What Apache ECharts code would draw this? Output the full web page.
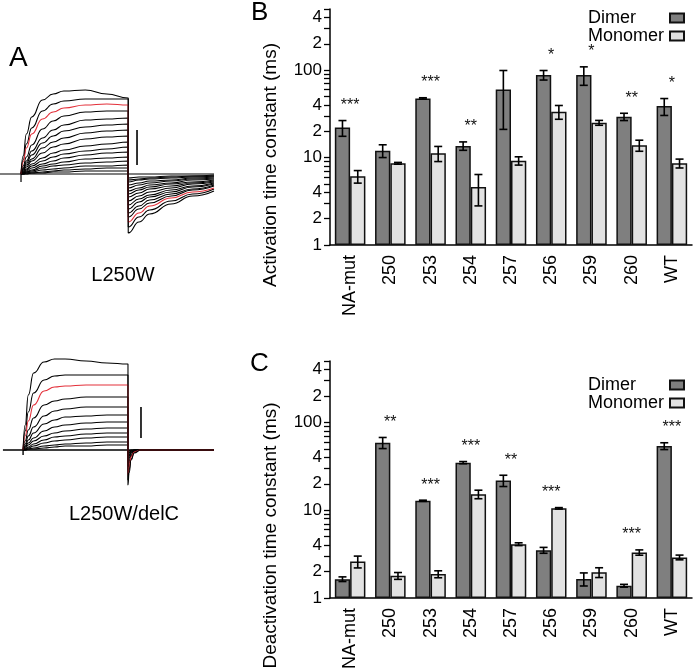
<!DOCTYPE html>
<html><head><meta charset="utf-8">
<script src="https://cdn.jsdelivr.net/npm/echarts@6/dist/echarts.min.js"></script>
<style>html,body{margin:0;padding:0;background:#fff}#c{width:693px;height:672px}</style>
</head><body><div id="c"></div>
<script>
// ---------- Bar chart data ----------
const categories = ['NA-mut','250','253','254','257','256','259','260','WT'];
const actDimer       = [22, 12, 47.5, 13.6, 60, 88, 88, 29.3, 38.8];
const actDimerErr    = [4.5, 2, 0.8, 1.5, 39, 11, 21, 2.8, 8.5];
const actMonomer     = [6.1, 8.6, 11.2, 4.6, 9.2, 33.4, 25, 13.8, 8.6];
const actMonomerErr  = [1, 0.2, 2.2, 1.8, 1, 6, 1.6, 2, 1];
const actStars       = ['***','','***','**','','*','*','**','*'];
const deactDimer      = [1.64, 58.8, 12.8, 34.8, 21.8, 3.5, 1.65, 1.38, 53.8];
const deactDimerErr   = [0.1, 8.5, 0.2, 1, 3.2, 0.27, 0.28, 0.05, 4.8];
const deactMonomer    = [2.6, 1.79, 1.87, 15.2, 4.1, 10.5, 1.96, 3.3, 2.9];
const deactMonomerErr = [0.4, 0.16, 0.17, 1.7, 0.15, 0.2, 0.25, 0.23, 0.18];
const deactStars      = ['','**','***','***','**','***','','***','***'];
const yTickValues  = [1,2,3,4,5,6,7,8,9,10,20,30,40,50,60,70,80,90,100,200,300,400,500];
const yLabelValues = [1,2,4,10,20,40,100,200,400];
const yLabelTexts  = ['1','2','4','10','2','4','100','2','4'];

// ---------- Current traces (panel A) ----------
const actTimes = [0,10,25,50,100,150,200,300,400,500];
const topAct = [
  [0,18,40,57,74,80,83,84,80,76],
  [0,14,30,46,63,70,73,75,75,75],
  [0,12,26,40,55,62,66,69,70,69],
  [0,8,17,29,45,53,58,62,63,63],
  [0,6,13,23,36,44,49,54,55,56],
  [0,5,11,19,31,38,43,47,49,50],
  [0,4,9,15,26,32,36,41,43,44],
  [0,3,7,13,21,27,30,35,37,38],
  [0,2,5,10,16,21,24,28,30,32],
  [0,2,4,8,13,17,20,23,25,27],
  [0,1,3,6,10,13,16,19,21,22],
  [0,1,2,4,8,10,12,15,16,17],
  [0,1,2,3,6,8,9,11,12,13],
  [0,0,1,2,4,5,6,8,8,9],
  [0,0,1,1,2,3,4,5,6,6],
  [0,0,0,1,1,2,2,3,3,3]
];
const topTailTimes = [500,550,600,700,800,900];
const topTail = [
  [-59,-48,-40,-30,-22,-17],
  [-53,-43,-36,-27,-20,-15],
  [-48,-39,-32,-24,-18,-14],
  [-43,-35,-29,-22,-16,-12],
  [-39,-32,-26,-20,-15,-11],
  [-35,-28,-23,-18,-13,-10],
  [-31,-25,-21,-16,-12,-9],
  [-27,-22,-18,-14,-10,-8],
  [-23,-19,-15,-12,-9,-7],
  [-20,-16,-13,-10,-8,-6],
  [-17,-14,-11,-9,-6,-5],
  [-14,-11,-9,-7,-5,-4],
  [-11,-9,-7,-6,-4,-3],
  [-8,-6,-5,-4,-3,-2],
  [-6,-5,-4,-3,-2,-2],
  [-4,-3,-3,-2,-2,-1]
];
const topRed = 2;
const topBaseline = [[-98,0],[0,0],[0,-8],[0,0],[900,0]];
const topScaleBar = [[541,44],[541,9]];

const botAct = [
  [0,25,55,77,88,91,91,89,87,86],
  [0,19,38,57,70,74,75,75,75,75],
  [0,14,29,45,59,63,64,65,65,65],
  [0,9,20,32,45,49,51,53,53,53],
  [0,6,14,23,34,39,41,43,43,43],
  [0,4,10,17,26,30,33,34,35,35],
  [0,3,7,12,19,23,25,27,28,28],
  [0,2,5,9,14,17,19,21,22,22],
  [0,1,3,6,10,13,14,16,17,17],
  [0,1,2,4,7,9,10,12,13,13],
  [0,0,1,2,4,5,6,7,8,8],
  [0,0,1,1,2,3,4,4,5,5]
];
const botTailTimes = [500,505,515,530,560,600,910];
const botTail = [
  [-35,-23,-10,-3,0,0,0],
  [-30,-20,-9,-2,0,0,0],
  [-25,-17,-7,-2,0,0,0],
  [-20,-13,-6,-2,0,0,0],
  [-16,-11,-5,-1,0,0,0],
  [-12,-8,-3,-1,0,0,0],
  [-9,-6,-3,-1,0,0,0],
  [-7,-5,-2,-1,0,0,0],
  [-5,-3,-1,0,0,0,0],
  [-4,-3,-1,0,0,0,0],
  [-2,-1,-1,0,0,0,0],
  [-1,-1,0,0,0,0,0]
];
const botRed = 2;
const botBaseline = [[-96,0],[0,0],[0,-5],[0,0],[906,0]];
const botScaleBar = [[562,43],[562,12]];

// ---------- Build ----------
const FONT = '"Liberation Sans", Arial, Helvetica, sans-serif';
const DARK = '#7f7f7f', LIGHT = '#e2e2e2', RED = '#e3303a';
const bandFrac = 0.38;

function labelFor(v){
  let best = 0, bd = Infinity;
  yLabelValues.forEach((lv, i) => { const d = Math.abs(Math.log(v/lv)); if (d < bd) { bd = d; best = i; } });
  return yLabelTexts[best];
}

function yAxisCfg(gi, name, shift){
  return {type:'log', logBase:10, gridIndex:gi, min:1, max:500,
    name:name, nameLocation:'middle', nameGap:50, nameRotate:90,
    nameTextStyle:{fontSize:19, color:'#000', fontFamily:FONT, padding:[0, shift*2, 0, 0]},
    axisLine:{show:true, lineStyle:{color:'#000', width:1.5}},
    axisTick:{show:true, length:6, lineStyle:{color:'#000', width:1.3}, customValues:yTickValues},
    axisLabel:{customValues:yLabelValues, formatter:v => labelFor(v), fontSize:17, color:'#000', margin:8, fontFamily:FONT},
    splitLine:{show:false}, minorTick:{show:false}};
}
function xAxisCfg(gi){
  return {type:'category', gridIndex:gi, data:categories, boundaryGap:true,
    axisLine:{lineStyle:{color:'#000', width:1.5}},
    axisTick:{length:12, lineStyle:{color:'#000', width:1.3}},
    axisLabel:{rotate:90, fontSize:18, color:'#000', margin:10, interval:0, fontFamily:FONT}};
}
function barSeries(gi, name, data, color){
  return {type:'bar', name:name, xAxisIndex:gi, yAxisIndex:gi, data:data, barWidth:'38%', barGap:'0%',
    itemStyle:{color:color, borderColor:'#111', borderWidth:1.5}, silent:true, z:2};
}
function errSeries(gi, means, errs, side){
  return {type:'custom', xAxisIndex:gi, yAxisIndex:gi, z:5, silent:true,
    data: means.map((m,i)=>[i, m, errs[i]]),
    renderItem(params, api){
      const i = api.value(0), m = api.value(1), e = api.value(2);
      const bw = api.coord([1,1])[0] - api.coord([0,1])[0];
      const x = api.coord([i, m])[0] + side*bw*bandFrac/2;
      const yt = api.coord([i, m+e])[1];
      const yb = api.coord([i, Math.max(m-e, 1)])[1];
      const hw = 4, st = {stroke:'#000', lineWidth:1.6};
      return {type:'group', children:[
        {type:'line', shape:{x1:x,y1:yt,x2:x,y2:yb}, style:st},
        {type:'line', shape:{x1:x-hw,y1:yt,x2:x+hw,y2:yt}, style:st},
        {type:'line', shape:{x1:x-hw,y1:yb,x2:x+hw,y2:yb}, style:st}]};
    }};
}
function starSeries(gi, stars, d, de, m, me){
  return {type:'custom', xAxisIndex:gi, yAxisIndex:gi, z:6, silent:true,
    data: stars.map((s,i)=>[i, Math.max(d[i]+de[i], m[i]+me[i])]),
    renderItem(params, api){
      const s = stars[params.dataIndex];
      if (!s) return null;
      const c = api.coord([api.value(0), api.value(1)]);
      return {type:'text', x:c[0], y:c[1]-15,
        style:{text:s, fontSize:16, fontFamily:FONT, fill:'#111', align:'center', verticalAlign:'middle'}};
    }};
}
function traceSeries(gi, act, tail, tailTimes, color, z){
  const data = actTimes.map((t,k)=>[t, act[k]]).concat(tailTimes.map((t,k)=>[t, tail[k]]));
  return {type:'line', xAxisIndex:gi, yAxisIndex:gi, data:data, symbol:'none', silent:true,
    smooth:0.5, smoothMonotone:'x', lineStyle:{color:color, width:1.1}, z:z};
}
function plainLine(gi, data, w){
  return {type:'line', xAxisIndex:gi, yAxisIndex:gi, data:data, symbol:'none', silent:true,
    lineStyle:{color:'#000', width:w}, z:3};
}

const series = [
  barSeries(0, 'Dimer', actDimer, DARK),
  barSeries(0, 'Monomer', actMonomer, LIGHT),
  errSeries(0, actDimer, actDimerErr, -1),
  errSeries(0, actMonomer, actMonomerErr, 1),
  starSeries(0, actStars, actDimer, actDimerErr, actMonomer, actMonomerErr),
  barSeries(1, 'Dimer', deactDimer, DARK),
  barSeries(1, 'Monomer', deactMonomer, LIGHT),
  errSeries(1, deactDimer, deactDimerErr, -1),
  errSeries(1, deactMonomer, deactMonomerErr, 1),
  starSeries(1, deactStars, deactDimer, deactDimerErr, deactMonomer, deactMonomerErr),
  plainLine(2, topBaseline, 1.2),
  plainLine(2, topScaleBar, 1.6),
  plainLine(3, botBaseline, 1.4),
  plainLine(3, botScaleBar, 1.6)
];
topAct.forEach((a,i)=>series.push(traceSeries(2, a, topTail[i], topTailTimes, i===topRed?RED:'#000', i===0?5:(i===topRed?4:3))));
botAct.forEach((a,i)=>series.push(traceSeries(3, a, botTail[i], botTailTimes, i===botRed?RED:'#000', i===0?5:(i===botRed?4:3))));

function legendCfg(top){
  return {data:['Dimer','Monomer'], orient:'vertical', left:583, top:top, icon:'rect',
    itemWidth:14, itemHeight:9, itemGap:0, align:'right', selectedMode:false,
    formatter: n => '{t|' + n + '}',
    textStyle:{fontSize:18, color:'#000', fontFamily:FONT,
      rich:{t:{width:77, align:'left', fontSize:18, fontFamily:FONT, color:'#000'}}}};
}

const chart = echarts.init(document.getElementById('c'));
chart.setOption({
  animation:false,
  textStyle:{fontFamily:FONT},
  grid:[
    {left:330, top:9, width:362, height:236},
    {left:330, top:361, width:362, height:238},
    {left:0, top:80, width:214, height:160},
    {left:0, top:350, width:214, height:150}
  ],
  xAxis:[xAxisCfg(0), xAxisCfg(1),
    {type:'value', gridIndex:2, min:-98, max:900, show:false},
    {type:'value', gridIndex:3, min:-110, max:910, show:false}],
  yAxis:[yAxisCfg(0, 'Activation time constant (ms)', 38), yAxisCfg(1, 'Deactivation time constant (ms)', 56),
    {type:'value', gridIndex:2, min:-66, max:94, show:false},
    {type:'value', gridIndex:3, min:-50, max:100, show:false}],
  legend:[legendCfg(4), legendCfg(371)],
  graphic:[
    {type:'text', left:9, top:44, style:{text:'A', fontSize:28, fontFamily:FONT, fill:'#000'}},
    {type:'text', left:251, top:0, style:{text:'B', fontSize:26, fontFamily:FONT, fill:'#000'}},
    {type:'text', left:250, top:351, style:{text:'C', fontSize:26, fontFamily:FONT, fill:'#000'}},
    {type:'text', x:123, y:275, style:{text:'L250W', fontSize:20, fontFamily:FONT, fill:'#000', align:'center', verticalAlign:'middle'}},
    {type:'text', x:124, y:514, style:{text:'L250W/delC', fontSize:20, fontFamily:FONT, fill:'#000', align:'center', verticalAlign:'middle'}}
  ],
  series:series
});
</script>
</body></html>
